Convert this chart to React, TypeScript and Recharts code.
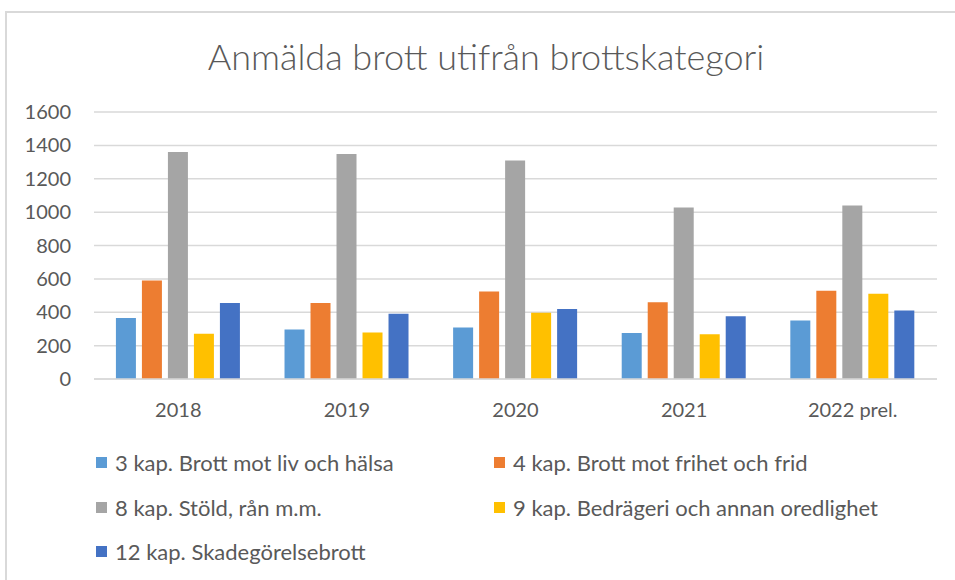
import React from "react";
import {
  Bar,
  BarChart,
  CartesianGrid,
  Legend,
  XAxis,
  YAxis,
} from "recharts";

const years = ["2018", "2019", "2020", "2021", "2022 prel."];
const kap3 = [365, 297, 309, 276, 350];
const kap4 = [590, 455, 525, 460, 529];
const kap8 = [1360, 1348, 1309, 1028, 1040];
const kap9 = [271, 279, 397, 268, 511];
const kap12 = [455, 391, 419, 376, 410];
const yTicks = [0, 200, 400, 600, 800, 1000, 1200, 1400, 1600];

const series = [
  { key: "kap3", name: "3 kap. Brott mot liv och hälsa", color: "#5B9BD5" },
  { key: "kap4", name: "4 kap. Brott mot frihet och frid", color: "#ED7D31" },
  { key: "kap8", name: "8 kap. Stöld, rån m.m.", color: "#A5A5A5" },
  { key: "kap9", name: "9 kap. Bedrägeri och annan oredlighet", color: "#FFC000" },
  { key: "kap12", name: "12 kap. Skadegörelsebrott", color: "#4472C4" },
];

const data = years.map((year, i) => ({
  year,
  kap3: kap3[i],
  kap4: kap4[i],
  kap8: kap8[i],
  kap9: kap9[i],
  kap12: kap12[i],
}));

const font = "Lato, 'Open Sans', sans-serif";
const textColor = "#595959";

// legend in two columns, same order as the series
const renderLegend = () => (
  <div style={{ position: "relative", width: 955, height: 130 }}>
    {series.map((it, i) => {
      const col = i % 2;
      const row = Math.floor(i / 2);
      return (
        <div
          key={it.key}
          style={{
            position: "absolute",
            left: col === 0 ? 96 : 494,
            top: 1 + row * 44.5,
            height: 45,
            display: "flex",
            alignItems: "center",
            fontFamily: font,
            fontSize: 22,
            color: textColor,
            whiteSpace: "nowrap",
          }}
        >
          <span
            style={{
              display: "inline-block",
              width: 11,
              height: 11,
              background: it.color,
              marginRight: 8,
            }}
          />
          {it.name}
        </div>
      );
    })}
  </div>
);

export default function App() {
  return (
    <div
      style={{
        position: "absolute",
        left: 0,
        top: 0,
        width: 955,
        height: 580,
        overflow: "hidden",
        background: "#fff",
      }}
    >
      <div
        style={{
          position: "absolute",
          left: 5,
          top: 11,
          width: 1000,
          height: 700,
          border: "2px solid #d9d9d9",
        }}
      />
      <div
        style={{
          position: "absolute",
          left: 0,
          top: 33,
          width: 972,
          textAlign: "center",
          fontFamily: font,
          fontWeight: 300,
          fontSize: 36,
          lineHeight: "46px",
          color: textColor,
        }}
      >
        Anmälda brott utifrån brottskategori
      </div>
      <BarChart
        width={955}
        height={580}
        data={data}
        margin={{ top: 112, right: 18, left: 0, bottom: 11 }}
        barCategoryGap="13%"
        barGap={6}
        style={{ position: "absolute", left: 0, top: 0 }}
      >
        <CartesianGrid vertical={false} stroke="#d9d9d9" strokeWidth={1.5} />
        <XAxis
          dataKey="year"
          height={60}
          tickLine={false}
          axisLine={{ stroke: "#d9d9d9", strokeWidth: 1.5 }}
          tickSize={0}
          tickMargin={24}
          tick={{ fill: textColor, fontSize: 20, fontFamily: font }}
        />
        <YAxis
          width={94}
          domain={[0, 1600]}
          ticks={yTicks}
          interval={0}
          tickLine={false}
          axisLine={false}
          tickSize={0}
          tickMargin={23}
          tick={{ fill: textColor, fontSize: 20, fontFamily: font }}
        />
        <Legend
          verticalAlign="bottom"
          content={renderLegend}
          wrapperStyle={{ left: 0, width: 955, height: 130 }}
        />
        {series.map((s) => (
          <Bar
            key={s.key}
            dataKey={s.key}
            name={s.name}
            fill={s.color}
            isAnimationActive={false}
          />
        ))}
      </BarChart>
    </div>
  );
}
